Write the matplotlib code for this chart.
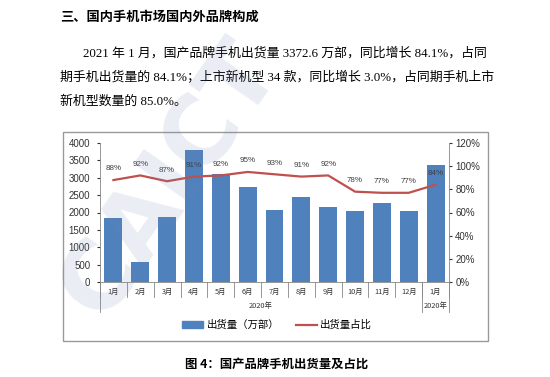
import matplotlib.pyplot as plt
import matplotlib.patches as mpatches
from matplotlib.lines import Line2D
from matplotlib.ticker import FuncFormatter

# Data
months = ['1月', '2月', '3月', '4月', '5月', '6月', '7月', '8月', '9月', '10月', '11月', '12月', '1月']
shipments = [1830, 570, 1880, 3800, 3100, 2720, 2070, 2440, 2150, 2030, 2260, 2050, 3372.6]
share = [88, 92, 87, 91, 92, 95, 93, 91, 92, 78, 77, 77, 84]
year_groups = ['2020年', '2020年']
group_sizes = [12, 1]

heading = '三、国内手机市场国内外品牌构成'
para = ['2021 年 1 月，国产品牌手机出货量 3372.6 万部，同比增长 84.1%，占同',
        '期手机出货量的 84.1%；上市新机型 34 款，同比增长 3.0%，占同期手机上市',
        '新机型数量的 85.0%。']
caption = '图 4：国产品牌手机出货量及占比'

plt.rcParams['font.family'] = ['Liberation Serif', 'Noto Sans CJK SC', 'DejaVu Sans']
bar_color = '#4f81bd'
line_color = '#c0504d'
cjk = ['Noto Sans CJK SC', 'DejaVu Sans']
sans = ['Liberation Sans', 'Noto Sans CJK SC']

W, H = 550, 377
fig = plt.figure(figsize=(5.5, 3.77), dpi=100)

def fx(px):
    return px / W

def fy(py):
    return 1 - py / H

# Text above the chart
fig.text(fx(60), fy(17), heading, family=cjk, fontsize=9.5, weight='bold', va='center')
fig.text(fx(83), fy(53), para[0], fontsize=9.3, va='center')
fig.text(fx(60), fy(78), para[1], fontsize=9.3, va='center')
fig.text(fx(60), fy(101), para[2], fontsize=9.3, va='center')

# chart frame
frame = mpatches.Rectangle((fx(63), fy(341)), fx(488) - fx(63), fy(132) - fy(341),
                           transform=fig.transFigure, fill=False, edgecolor='#999999',
                           lw=1.0, zorder=5)
fig.add_artist(frame)

ax = fig.add_axes([fx(100), fy(282), fx(449) - fx(100), fy(143) - fy(282)])
x = list(range(len(months)))
ax.bar(x, shipments, width=0.67, color=bar_color, zorder=2)
ax.set_xlim(-0.5, len(months) - 0.5)
ax.set_ylim(0, 4000)
ax.set_yticks(range(0, 4001, 500))
ax.tick_params(axis='y', labelsize=7, length=2, pad=5, colors='#333333')
for lab in ax.get_yticklabels():
    lab.set_family(sans)
ax.set_xticks([])
for s in ['top', 'right']:
    ax.spines[s].set_visible(False)
ax.spines['left'].set_color('#868686')
ax.spines['bottom'].set_color('#868686')
ax.spines['left'].set_linewidth(0.6)
ax.spines['bottom'].set_linewidth(0.6)

# multi-level category axis
tr = ax.get_xaxis_transform()
ah = fy(143) - fy(282)
short = -15 / H / ah
long_ = -30 / H / ah
for i in range(len(months) + 1):
    ax.plot([i - 0.5, i - 0.5], [0, short], transform=tr, color='#868686', lw=0.6, clip_on=False)
for i, m in enumerate(months):
    ax.text(i, -9.5 / H / ah, m, transform=tr, ha='center', va='center',
            fontsize=5.3, family=cjk, color='#333333')
start = 0
bounds = [0]
for g, n in zip(year_groups, group_sizes):
    ax.text(start + (n - 1) / 2, -24 / H / ah, g, transform=tr, ha='center', va='center',
            fontsize=5.3, family=cjk, color='#333333')
    start += n
    bounds.append(start)
for b in bounds:
    ax.plot([b - 0.5, b - 0.5], [0, long_], transform=tr, color='#868686', lw=0.6, clip_on=False)

# share line on right axis
ax2 = ax.twinx()
ax2.plot(x, [v / 100 for v in share], color=line_color, lw=1.6, zorder=3)
ax2.set_ylim(0, 1.2)
ax2.set_yticks([i / 10 for i in range(0, 13, 2)])
ax2.yaxis.set_major_formatter(FuncFormatter(lambda v, p: '%d%%' % round(v * 100)))
ax2.tick_params(axis='y', labelsize=7, length=2.5, pad=2, colors='#333333')
for lab in ax2.get_yticklabels():
    lab.set_family(sans)
for s in ['top', 'left', 'bottom']:
    ax2.spines[s].set_visible(False)
ax2.spines['right'].set_color('#868686')
ax2.spines['right'].set_linewidth(0.6)
for xi, v in zip(x, share):
    ax2.annotate('%d%%' % v, (xi, v / 100), xytext=(0, 8), textcoords='offset points',
                 ha='center', va='center', fontsize=5.8, family=sans, color='#404040')

# legend
handles = [mpatches.Patch(color=bar_color), Line2D([], [], color=line_color, lw=1.6)]
fig.legend(handles, ['出货量（万部）', '出货量占比'], loc='center', bbox_to_anchor=(fx(277), fy(325)),
           ncol=2, frameon=False, prop={'family': cjk, 'size': 7.5}, handlelength=2.0,
           handleheight=0.6, handletextpad=0.3, columnspacing=1.6)

fig.text(fx(277), fy(364), caption, family=cjk, fontsize=8.9, weight='bold', ha='center', va='center')

# watermark
fig.text(fx(170), fy(180), 'CAICT', family=['DejaVu Sans'], fontsize=68, weight='bold',
         rotation=55, ha='center', va='center', color='#6f86b8', alpha=0.15, zorder=10)

fig.savefig('out.png', dpi=100)
